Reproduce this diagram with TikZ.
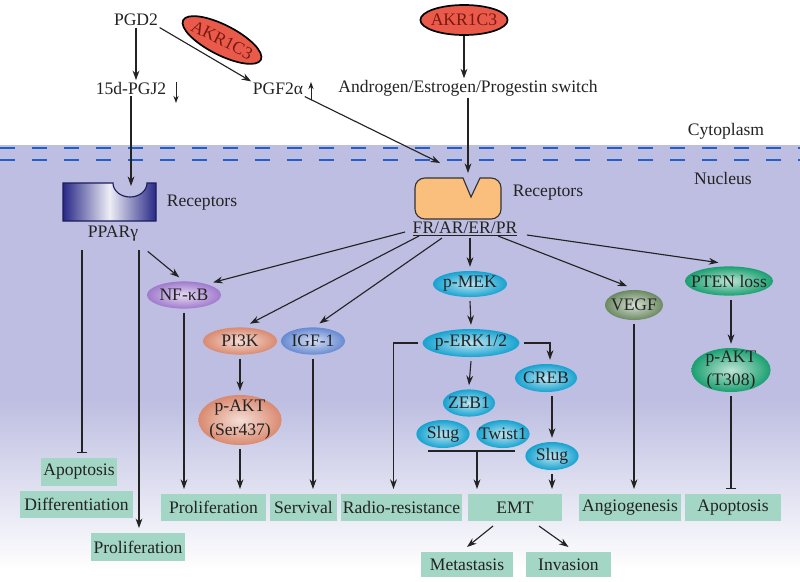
\documentclass[tikz,border=0pt]{standalone}
\usepackage{fontspec}
\setmainfont{Liberation Serif}
\usepackage{tikz}
\usetikzlibrary{shapes.geometric, positioning, calc}
\usetikzlibrary{arrows.meta}
\tikzset{>={Stealth[width=1.7mm,length=2.4mm]}}
\definecolor{txtgray}{RGB}{35,35,35}
\definecolor{lav}{RGB}{189,190,225}
\definecolor{dashblue}{RGB}{35,95,200}
\definecolor{akrred}{RGB}{234,90,74}
\definecolor{akrtext}{RGB}{120,25,20}
\definecolor{recorange}{RGB}{250,190,125}
\definecolor{pparblue}{RGB}{40,40,135}
\definecolor{nfcol}{RGB}{160,122,205}
\definecolor{salcol}{RGB}{218,138,112}
\definecolor{igfcol}{RGB}{102,138,210}
\definecolor{cyancol}{RGB}{22,162,208}
\definecolor{vegfcol}{RGB}{108,138,98}
\definecolor{ptencol}{RGB}{26,160,112}
\definecolor{boxgreen}{RGB}{163,214,196}

\begin{document}
\begin{tikzpicture}[x=0.025cm, y=-0.025cm, font=\fontsize{12.5}{14}\selectfont,
    txtnode/.style={text=txtgray, inner sep=1pt},
    ellnode/.style={ellipse, inner sep=-8pt, outer sep=3pt, text=txtgray, inner color=white!72!#1, outer color=#1},
    akrnode/.style={ellipse, draw=black, line width=1.2pt, fill=akrred, text=akrtext, inner sep=-8pt, minimum width=2.18cm, minimum height=0.75cm},
    outcome/.style={fill=boxgreen, text=txtgray, inner sep=0pt, outer sep=3.5pt, minimum height=0.68cm},
    arr/.style={->, draw=txtgray, line width=0.8pt},
    smallarr/.style={-{Stealth[width=1.3mm,length=1.8mm]}, draw=txtgray, line width=0.7pt},
    inhib/.style={-{Bar[width=2.6mm]}, draw=txtgray, line width=0.8pt}]

    %Background
    \useasboundingbox (0,0) rectangle (800,581);
    \fill[white] (0,0) rectangle (800,581);
    \fill[lav] (0,145) rectangle (800,400);
    \shade[top color=lav, bottom color=white] (0,399) rectangle (800,570);
    \draw[dashblue, line width=1.4pt, dash pattern=on 10.7pt off 12pt] (0,148) -- (800,148);
    \draw[dashblue, line width=1.4pt, dash pattern=on 10.7pt off 12pt] (0,160) -- (800,160);

    %Receptors
    \draw[draw=pparblue!70!black, line width=0.8pt, left color=pparblue, right color=pparblue, middle color=white!92!pparblue]
        (63,183) -- (113,183) arc[start angle=180, end angle=0, x radius=17, y radius=14] -- (156,183) -- (156,221) -- (63,221) -- cycle;
    \draw[draw=black!80, line width=0.8pt, fill=recorange]
        (471,197) -- (463,178) {[rounded corners=7pt] -- (415,178) -- (415,219) -- (501,219) -- (501,178)} -- (480,178) -- cycle;
    \coordinate (pparin) at (131,186);
    \coordinate (recin) at (440,163);
    \coordinate (recnotch) at (468,173);

    %Nodes
    \node[txtnode] (pgd) at (136,20) {PGD2};
    \node[akrnode, rotate=-27] (akrA) at (222,40) {AKR1C3};
    \node[txtnode] (pgj) at (131,88) {15d-PGJ2};
    \node[txtnode] (pgf) at (278,89) {PGF2α};
    \node[akrnode] (akrB) at (464,20) {AKR1C3};
    \node[txtnode] (switch) at (468,88) {Androgen/Estrogen/Progestin switch};
    \node[txtnode] (cyto) at (726,131) {Cytoplasm};
    \node[txtnode] (nuc) at (723,178) {Nucleus};
    \node[txtnode] (recA) at (202,203) {Receptors};
    \node[txtnode] (ppar) at (113,234) {PPARγ};
    \node[txtnode] (recB) at (548,193) {Receptors};
    \node[txtnode] (fr) at (465,229) {\underline{FR/AR/ER/PR}};

    \node[ellnode=nfcol, minimum width=1.85cm, minimum height=0.68cm] (nfkb) at (184,295) {NF-κB};
    \node[ellnode=salcol, minimum width=1.85cm, minimum height=0.68cm] (pi3k) at (240,341) {PI3K};
    \node[ellnode=igfcol, minimum width=1.6cm, minimum height=0.68cm] (igf) at (313,341) {IGF-1};
    \node[ellnode=salcol, minimum width=2.08cm, minimum height=1.25cm, align=center, font=\fontsize{12.5}{17}\selectfont] (aktS) at (240,420) {p-AKT\\(Ser437)};
    \node[ellnode=cyancol, minimum width=1.85cm, minimum height=0.65cm] (pmek) at (470,284) {p-MEK};
    \node[ellnode=cyancol, minimum width=2.42cm, minimum height=0.7cm] (perk) at (471,343) {p-ERK1/2};
    \node[ellnode=cyancol, minimum width=1.3cm, minimum height=0.68cm] (zeb) at (469,403) {ZEB1};
    \node[ellnode=cyancol, minimum width=1.33cm, minimum height=0.7cm] (slugA) at (443,434) {Slug};
    \node[ellnode=cyancol, minimum width=1.33cm, minimum height=0.7cm] (twist) at (503,434) {Twist1};
    \node[ellnode=cyancol, minimum width=1.55cm, minimum height=0.7cm] (creb) at (546,378) {CREB};
    \node[ellnode=cyancol, minimum width=1.33cm, minimum height=0.7cm] (slugB) at (552,456) {Slug};
    \node[ellnode=vegfcol, minimum width=1.45cm, minimum height=0.75cm] (vegf) at (634,305) {VEGF};
    \node[ellnode=ptencol, minimum width=2.2cm, minimum height=0.73cm] (pten) at (729,281) {PTEN loss};
    \node[ellnode=ptencol, minimum width=1.98cm, minimum height=1.1cm, align=center, font=\fontsize{12.5}{16}\selectfont] (aktT) at (731,370) {p-AKT\\(T308)};

    \node[outcome, minimum width=1.9cm, minimum height=0.7cm] (apoL) at (79,472) {Apoptosis};
    \node[outcome, minimum width=2.83cm] (diff) at (76.5,504.5) {Differentiation};
    \node[outcome, minimum width=2.35cm, minimum height=0.7cm] (prolBL) at (138,547) {Proliferation};
    \node[outcome, minimum width=2.63cm] (prolM) at (213.5,507.5) {Proliferation};
    \node[outcome, minimum width=1.68cm] (serv) at (303.5,507.5) {Servival};
    \node[outcome, minimum width=3.03cm] (radio) at (401.5,507.5) {Radio-resistance};
    \node[outcome, minimum width=2.35cm] (emt) at (515,507.5) {EMT};
    \node[outcome, minimum width=2.55cm] (angio) at (630,507.5) {Angiogenesis};
    \node[outcome, minimum width=2.4cm] (apoR) at (733,507.5) {Apoptosis};
    \node[outcome, minimum width=2.3cm, minimum height=0.63cm] (meta) at (467,564.5) {Metastasis};
    \node[outcome, minimum width=2.13cm, minimum height=0.63cm] (inv) at (568.5,564.5) {Invasion};

    \coordinate (pgjdn) at (176,82);
    \coordinate (pgjdnB) at (176,103);
    \coordinate (pgfup) at (311,100);
    \coordinate (pgfupB) at (311,82);
    \coordinate (ppA) at (82,250);
    \coordinate (ppB) at (139,250);
    \coordinate (brL) at (428,451);
    \coordinate (brR) at (515,451);
    \coordinate (brM) at (477,451);

    %Lines
    \draw[arr] (pgd.south) -- (pgd.south |- pgj.north);
    \draw[arr] (pgd.south east) -- (pgf.north west);
    \draw[smallarr] (pgjdn) -- (pgjdnB);
    \draw[smallarr] (pgfup) -- (pgfupB);
    \draw[arr] (pgj.south) -- (pparin);
    \draw[arr] (pgf.south east) -- (recin);
    \draw[arr] (akrB.south) -- (akrB.south |- switch.north);
    \draw[arr] (switch.south) -- (switch.south |- recnotch);

    \draw[arr] ($(ppar.south east)+(8,8)$) -- (nfkb.105);
    \draw[inhib] (ppA) -- (ppA |- apoL.north);
    \draw[arr] (ppB) -- (ppB |- prolBL.north);

    \draw[arr] ($(fr.south west)+(-6,-6)$) -- (nfkb.north east);
    \draw[arr] ($(fr.south west)+(8,-2)$) -- (pi3k.60);
    \draw[arr] ($(fr.south west)+(31,0)$) -- (igf.70);
    \draw[arr] (pmek.north |- fr.south) -- (pmek.north);
    \draw[arr] ($(fr.south east)+(-21,-2)$) -- (vegf.110);
    \draw[arr] ($(fr.east)+(8,6)$) -- (pten.120);

    \draw[arr] (nfkb.south) -- (nfkb.south |- prolM.north);
    \draw[arr] (pi3k.south) -- (aktS.north);
    \draw[arr] (aktS.south) -- (aktS.south |- prolM.north);
    \draw[arr] (igf.south) -- (igf.south |- serv.north);

    \draw[arr] (pmek.south) -- (perk.north);
    \draw[arr] (perk.west) -| ($(radio.north)+(-8,0)$);
    \draw[arr] (perk.east) -| ($(creb.north)+(4,0)$);
    \draw[arr] (perk.south) -- (zeb.north);
    \draw[arr] (slugB.north |- creb.south) -- (slugB.north);
    \draw[draw=txtgray, line width=0.8pt] (brL) -- (brR);
    \draw[arr] (brM) -- (brM |- emt.north);
    \draw[arr] (slugB.south) -- (slugB.south |- emt.north);
    \draw[arr] ($(emt.south)+(-22,0)$) -- (meta.north);
    \draw[arr] ($(emt.south)+(24,0)$) -- (inv.north);

    \draw[arr] (vegf.south) -- (vegf.south |- angio.north);
    \draw[arr] (aktT.north |- pten.south) -- (aktT.north);
    \draw[inhib] (aktT.south) -- (aktT.south |- apoR.north);

\end{tikzpicture}
\end{document}
